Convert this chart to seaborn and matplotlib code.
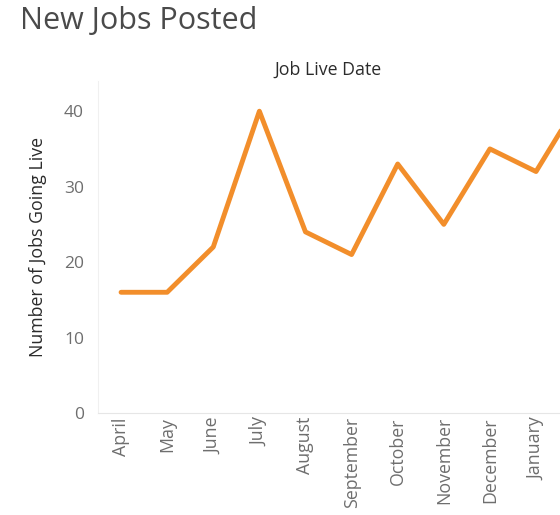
import pandas as pd
import matplotlib.pyplot as plt
import seaborn as sns

# values (last month is cut off by the right edge)
months = ['April', 'May', 'June', 'July', 'August', 'September', 'October',
          'November', 'December', 'January', 'February']
jobs = [16, 16, 22, 40, 24, 21, 33, 25, 35, 32, 42]
y_ticks = [0, 10, 20, 30, 40]

df = pd.DataFrame({'month': months, 'jobs': jobs})
df['pos'] = range(len(df))

sns.set_style('white')
plt.rcParams['font.family'] = ['Open Sans', 'DejaVu Sans']

fig = plt.figure(figsize=(5.6, 5.15), dpi=100)
# axes runs past the right edge like the cropped dashboard
ax = fig.add_axes([98 / 560, 102 / 515, 462 / 560, 332 / 515])

sns.lineplot(data=df, x='pos', y='jobs', color='#F28E2B', linewidth=3.5, ax=ax)

ax.set_xlim(-0.5, 9.52)
ax.set_ylim(0, 44)
ax.set_yticks(y_ticks)
ax.set_yticklabels([str(t) for t in y_ticks], color='#6e6e6e', fontsize=12.5)
ax.set_xticks(df['pos'][:10])
ax.set_xticklabels(months[:10], rotation=90, color='#6e6e6e', fontsize=12.8)
ax.tick_params(axis='x', length=0, pad=3)
ax.tick_params(axis='y', length=0, pad=10)

ax.set_xlabel('')
ax.set_ylabel('Number of Jobs Going Live', fontsize=12.8, color='#2b2b2b',
              labelpad=12)

for side in ['top', 'right']:
    ax.spines[side].set_visible(False)
ax.spines['left'].set_color('#f0f0f0')
ax.spines['bottom'].set_color('#e6e6e6')

fig.text(20 / 560, 1 - 21 / 515, 'New Jobs Posted', fontsize=22, color='#4a4a4a',
         va='center', ha='left')
fig.text(328 / 560, 1 - 70 / 515, 'Job Live Date', fontsize=12.8, color='#2b2b2b',
         va='center', ha='center')

fig.savefig('out.png', dpi=100)
